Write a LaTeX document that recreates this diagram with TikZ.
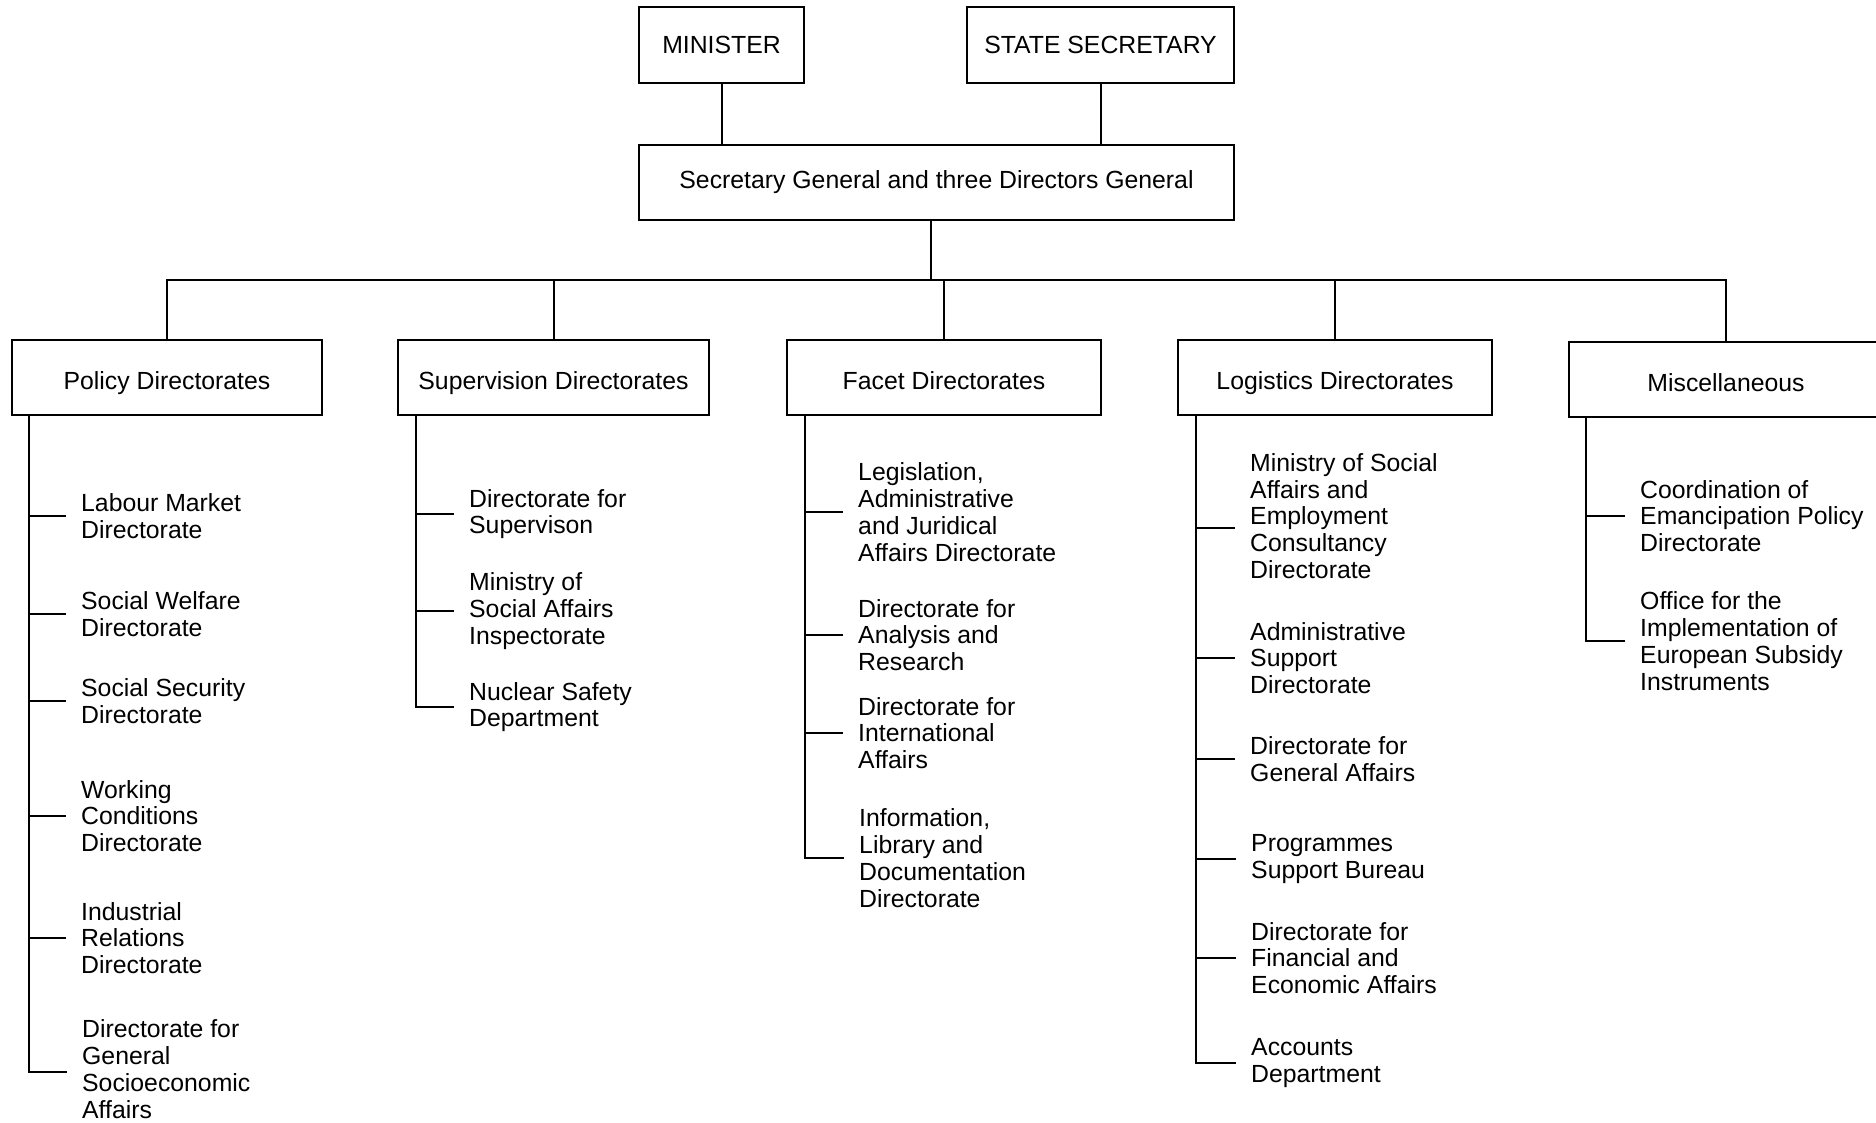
\documentclass[tikz,border=0pt]{standalone}
\usepackage{fontspec}
\setmainfont{Liberation Sans}
\begin{document}
\begin{tikzpicture}[x=1pt,y=-1pt,
  every node/.style={font=\fontsize{24.8}{26.8}\selectfont},
  box/.style={draw, line width=2pt, minimum height=75pt, inner sep=0pt},
  title/.style={text height=24pt, text depth=0pt},
  item/.style={anchor=west, align=left, inner sep=0pt},
  conn/.style={line width=2pt}]
\useasboundingbox (0,0) rectangle (1876,1122);
% top level
\node[box, minimum width=165pt, minimum height=76pt] (min) at (721.5,45) {MINISTER};
\node[box, minimum width=267pt, minimum height=76pt] (ss) at (1100.5,45) {STATE SECRETARY};
\node[box, minimum width=595pt] (sg) at (936.5,182.5) {Secretary General and three Directors General};
\draw[conn] (min.south) -- (min.south |- sg.north);
\draw[conn] (ss.south) -- (ss.south |- sg.north);
% level 2
\node[box, title, minimum width=310pt] (pol) at (167,377.5) {Policy Directorates};
\node[box, title, minimum width=311pt] (sup) at (553.5,377.5) {Supervision Directorates};
\node[box, title, minimum width=314pt] (fac) at (944,377.5) {Facet Directorates};
\node[box, title, minimum width=314pt] (log) at (1335,377.5) {Logistics Directorates};
\node[box, title, minimum width=314pt] (misc) at (1726,379.5) {Miscellaneous};
\coordinate (busjoin) at (931,280);
\draw[conn] (sg.south -| busjoin) -- (busjoin);
\draw[conn] (pol.north) |- (misc.north |- busjoin) -- (misc.north);
\draw[conn] (sup.north) -- (sup.north |- busjoin);
\draw[conn] (fac.north) -- (fac.north |- busjoin);
\draw[conn] (log.north) -- (log.north |- busjoin);
% Policy items
\node[item] (p1) at (81,516) {Labour Market\\Directorate};
\node[item] (p2) at (81,614) {Social Welfare\\Directorate};
\node[item] (p3) at (81,701) {Social Security\\Directorate};
\node[item] (p4) at (81,816) {Working\\Conditions\\Directorate};
\node[item] (p5) at (81,938) {Industrial\\Relations\\Directorate};
\node[item] (p6) at (82,1069) {Directorate for\\General\\Socioeconomic\\Affairs};
\coordinate (spP) at (29,415);
\draw[conn] (spP) |- ([xshift=-15pt,yshift=-3pt]p6.west);
\foreach \n in {p1,p2,p3,p4,p5} \draw[conn] (spP |- \n.west) -- ([xshift=-15pt]\n.west);
% Supervision items
\node[item] (s1) at (469,514) {Directorate for\\Supervison};
\node[item] (s2) at (469,611) {Ministry of\\Social Affairs\\Inspectorate};
\node[item] (s3) at (469,707) {Nuclear Safety\\Department};
\coordinate (spS) at (416,415);
\draw[conn] (spS) |- ([xshift=-15pt]s3.west);
\foreach \n in {s1,s2} \draw[conn] (spS |- \n.west) -- ([xshift=-15pt]\n.west);
% Facet items
\node[item] (f1) at (858,512) {Legislation,\\Administrative\\and Juridical\\Affairs Directorate};
\node[item] (f2) at (858,635) {Directorate for\\Analysis and\\Research};
\node[item] (f3) at (858,733) {Directorate for\\International\\Affairs};
\node[item] (f4) at (859,858) {Information,\\Library and\\Documentation\\Directorate};
\coordinate (spF) at (805,415);
\draw[conn] (spF) |- ([xshift=-15pt]f4.west);
\foreach \n in {f1,f2,f3} \draw[conn] (spF |- \n.west) -- ([xshift=-15pt]\n.west);
% Logistics items
\node[item] (l1) at (1250,516) {Ministry of Social\\Affairs and\\Employment\\Consultancy\\Directorate};
\node[item] (l2) at (1250,658) {Administrative\\Support\\Directorate};
\node[item] (l3) at (1250,759) {Directorate for\\General Affairs};
\node[item] (l4) at (1251,859) {Programmes\\Support Bureau};
\node[item] (l5) at (1251,958) {Directorate for\\Financial and\\Economic Affairs};
\node[item] (l6) at (1251,1063) {Accounts\\Department};
\coordinate (spL) at (1196,415);
\draw[conn] (spL) |- ([xshift=-15pt]l6.west);
\draw[conn] ([yshift=-12pt]spL |- l1.west) -- ([xshift=-15pt,yshift=-12pt]l1.west);
\foreach \n in {l2,l3,l4,l5} \draw[conn] (spL |- \n.west) -- ([xshift=-15pt]\n.west);
% Miscellaneous items
\node[item] (m1) at (1640,516) {Coordination of\\Emancipation Policy\\Directorate};
\node[item] (m2) at (1640,641) {Office for the\\Implementation of\\European Subsidy\\Instruments};
\coordinate (spM) at (1586,417);
\draw[conn] (spM) |- ([xshift=-15pt]m2.west);
\draw[conn] (spM |- m1.west) -- ([xshift=-15pt]m1.west);
\end{tikzpicture}
\end{document}
